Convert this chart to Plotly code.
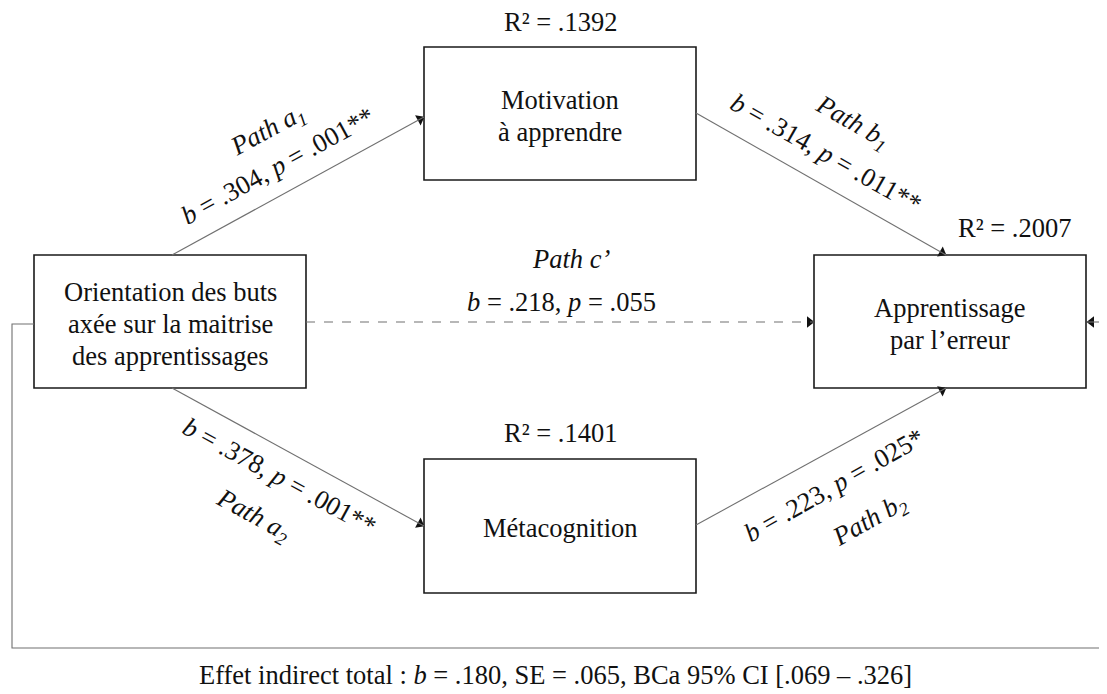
import math
import plotly.graph_objects as go

# ---- content (labels & statistics) ----
node_lines = [["Orientation des buts", "axée sur la maitrise", "des apprentissages"],
              ["Motivation", "à apprendre"],
              ["Métacognition"],
              ["Apprentissage", "par l’erreur"]]
r2_values = [".1392", ".1401", ".2007"]
path_names = ["Path <i>a</i><sub>1</sub>", "Path <i>b</i><sub>1</sub>",
              "Path <i>a</i><sub>2</sub>", "Path <i>b</i><sub>2</sub>", "Path <i>c’</i>"]
path_b = [".304", ".314", ".378", ".223", ".218"]
path_p = [".001**", ".011**", ".001**", ".025*", ".055"]
indirect = {"b": ".180", "SE": ".065", "ci_low": ".069", "ci_high": ".326"}

# ---- layout geometry (pixel space of the page) ----
W, H = 1107, 694
OFF = 8  # default body margin of the html page
FONT = "Liberation Serif"
FS = 26.5
LINE_H = 32
BOX_COL = "#1a1a1a"
LINE_COL = "#707070"
HEAD_COL = "#111111"
HEAD_SIZE = 10

boxes = {
    "X": (34, 255, 306, 388),
    "M1": (424, 47, 696, 180),
    "M2": (424, 459, 696, 593),
    "Y": (814, 255, 1086, 388),
}

fig = go.Figure()
shapes = []
annotations = []
head_x, head_y, head_ang = [], [], []

for key, (x0, y0, x1, y1) in boxes.items():
    shapes.append(dict(type="rect", x0=x0, y0=y0, x1=x1, y1=y1, xref="x", yref="y",
                       line=dict(color=BOX_COL, width=1.6), fillcolor="rgba(0,0,0,0)"))

def text(x, y, s, angle=0, size=FS):
    annotations.append(dict(x=x, y=y, text=s, textangle=angle, showarrow=False,
                            xref="x", yref="y",
                            font=dict(family=FONT, size=size, color="#111")))

for key, lines in zip(["X", "M1", "M2", "Y"], node_lines):
    x0, y0, x1, y1 = boxes[key]
    cx, cy = (x0 + x1) / 2, (y0 + y1) / 2
    n = len(lines)
    for i, ln in enumerate(lines):
        text(cx, cy + (i - (n - 1) / 2) * LINE_H + 2, ln)

# R² labels
for (x, y), r in zip([(560, 22), (560, 433), (1014, 228)], r2_values):
    text(x, y, "R² = " + r)

def line(pts, dash="solid"):
    path = "M " + " L ".join(f"{x} {y}" for x, y in pts)
    shapes.append(dict(type="path", path=path, xref="x", yref="y",
                       line=dict(color=LINE_COL, width=1.1, dash=dash)))

def arrow(tail, tip, dash="solid"):
    line([tail, tip], dash)
    dx, dy = tip[0] - tail[0], tip[1] - tail[1]
    L = math.hypot(dx, dy)
    back = HEAD_SIZE * 0.45
    head_x.append(tip[0] - dx / L * back)
    head_y.append(tip[1] - dy / L * back)
    head_ang.append(math.degrees(math.atan2(dx, -dy)))

arrow((172, 255), (424, 117))   # a1
arrow((696, 113), (946, 255))   # b1
arrow((172, 388), (424, 526))   # a2
arrow((696, 525), (946, 388))   # b2
arrow((306, 322), (814, 322), dash="dash")  # c'

# feedback loop line
line([(34, 324), (12, 324), (12, 648), (1107, 648)])
arrow((1107, 322), (1087, 322))

fig.add_trace(go.Scatter(x=head_x, y=head_y, mode="markers", hoverinfo="skip",
                         marker=dict(symbol="triangle-up", size=HEAD_SIZE, angle=head_ang,
                                     color=HEAD_COL, line=dict(width=0))))

def stat(b, p):
    return f"<i>b</i> = {b}, <i>p</i> = {p}"

text(268, 131, "<i>" + path_names[0] + "</i>", -28.7)
text(277, 166, stat(path_b[0], path_p[0]), -28.7)
text(852, 123, "<i>" + path_names[1] + "</i>", 29.6)
text(826, 153, stat(path_b[1], path_p[1]), 29.6)
text(279, 476, stat(path_b[2], path_p[2]), 28.7)
text(253, 516, "<i>" + path_names[2] + "</i>", 28.7)
text(834, 485, stat(path_b[3], path_p[3]), -29.6)
text(870, 521, "<i>" + path_names[3] + "</i>", -29.6)
text(571, 259, "<i>" + path_names[4] + "</i>")
text(561, 302, stat(path_b[4], path_p[4]))

text(555, 675, (f"Effet indirect total : <i>b</i> = {indirect['b']}, SE = {indirect['SE']}, "
                f"BCa 95% CI [{indirect['ci_low']} – {indirect['ci_high']}]"))

fig.update_layout(
    width=W - OFF, height=H - OFF, margin=dict(l=0, r=0, t=0, b=0),
    paper_bgcolor="white", plot_bgcolor="white",
    xaxis=dict(range=[OFF, W], visible=False, fixedrange=True),
    yaxis=dict(range=[H, OFF], visible=False, fixedrange=True),
    shapes=shapes, annotations=annotations, showlegend=False,
)
fig.write_html("out.html")
